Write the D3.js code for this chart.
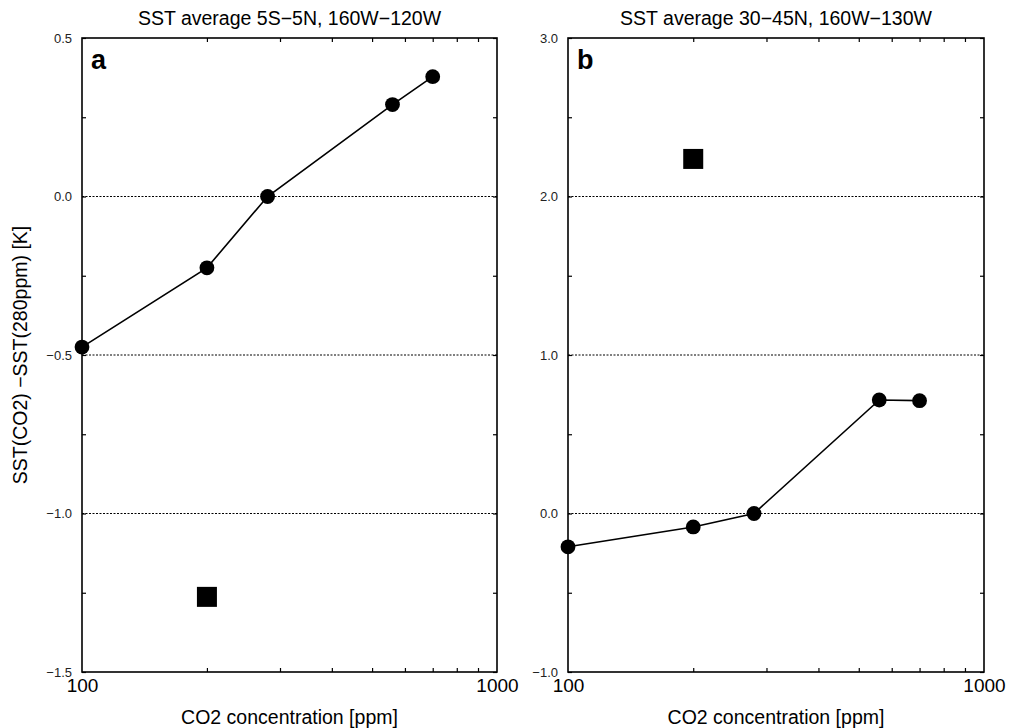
<!DOCTYPE html>
<html>
<head>
<meta charset="utf-8">
<script src="https://cdn.jsdelivr.net/npm/d3@7"></script>
<style>
  body { margin: 0; background: #fff; }
  text { font-family: "Liberation Sans", Arial, sans-serif; }
</style>
</head>
<body>
<svg id="chart" width="1019" height="728"></svg>
<script>
// values
let co2 = [100, 200, 280, 560, 700],
  sstA = [-0.475, -0.225, 0.0, 0.29, 0.378],
  sstB = [-0.21, -0.085, 0.0, 0.716, 0.712],
  squareCo2 = [200],
  squareA = [-1.263],
  squareB = [2.237]

let titles = ["SST average 5S\u22125N, 160W\u2212120W", "SST average 30\u221245N, 160W\u2212130W"],
  letters = ["a", "b"],
  yDomains = [[-1.5, 0.5], [-1.0, 3.0]],
  yMajorA = [-1.5, -1.0, -0.5, 0.0, 0.5],
  yMajorB = [-1.0, 0.0, 1.0, 2.0, 3.0],
  yMinorA = [-1.25, -0.75, -0.25, 0.25],
  yMinorB = [-0.5, 0.5, 1.5, 2.5],
  xLabels = [100, 1000],
  xMinor = [200, 300, 400, 500, 600, 700, 800, 900]

let svg = d3.select("#chart"),
  yTop = 38, yBottom = 672,
  lefts = [82, 568], rights = [497, 984]

var fmt = d3.format(".1f")

let panels = [
  {y: sstA, sq: squareA, major: yMajorA, minor: yMinorA},
  {y: sstB, sq: squareB, major: yMajorB, minor: yMinorB}
]

panels.forEach((p, i) => {
  let x = d3.scaleLog().domain([100, 1000]).range([lefts[i], rights[i]]),
    y = d3.scaleLinear().domain(yDomains[i]).range([yBottom, yTop])
  let g = svg.append("g")

  // dotted lines at inner major values
  g.selectAll(".grid")
    .data(p.major.slice(1, -1)).enter()
    .append("line")
    .attr("x1", lefts[i]).attr("x2", rights[i])
    .attr("y1", d => y(d)).attr("y2", d => y(d))
    .attr("stroke", "#000")
    .attr("stroke-width", 1)
    .attr("stroke-dasharray", "2,1.5")

  // y axes, ticks pointing inward
  let yl = g.append("g").attr("transform", `translate(${lefts[i]},0)`)
    .call(d3.axisLeft(y).tickValues(p.major).tickFormat(fmt).tickSize(-4).tickPadding(10))
  yl.selectAll("text").attr("font-size", 13).attr("fill", "#222")
  g.append("g").attr("transform", `translate(${lefts[i]},0)`)
    .call(d3.axisLeft(y).tickValues(p.minor).tickFormat("").tickSize(-4))
  g.append("g").attr("transform", `translate(${rights[i]},0)`)
    .call(d3.axisRight(y).tickValues(p.major.concat(p.minor)).tickFormat("").tickSize(-4))

  // x axes, log scale
  let xb = g.append("g").attr("transform", `translate(0,${yBottom})`)
    .call(d3.axisBottom(x).tickValues(xLabels).tickFormat(d3.format("d")).tickSize(0).tickPadding(7))
  xb.selectAll("text").attr("font-size", 19).attr("fill", "#000")
  g.append("g").attr("transform", `translate(0,${yBottom})`)
    .call(d3.axisBottom(x).tickValues(xMinor).tickFormat("").tickSize(-4))
  g.append("g").attr("transform", `translate(0,${yTop})`)
    .call(d3.axisTop(x).tickValues(xMinor).tickFormat("").tickSize(-4))

  g.selectAll(".domain").remove()
  g.selectAll(".tick line").attr("stroke", "#000").attr("stroke-width", 1.2)

  // frame
  g.append("rect")
    .attr("x", lefts[i]).attr("y", yTop)
    .attr("width", rights[i] - lefts[i]).attr("height", yBottom - yTop)
    .attr("fill", "none").attr("stroke", "#000").attr("stroke-width", 1.6)

  // line + circles
  let line = d3.line().x((d, j) => x(co2[j])).y(d => y(d))
  g.append("path")
    .datum(p.y)
    .attr("d", line)
    .attr("fill", "none").attr("stroke", "#000").attr("stroke-width", 1.6)
  g.selectAll(".pt")
    .data(p.y).enter()
    .append("circle")
    .attr("cx", (d, j) => x(co2[j])).attr("cy", d => y(d))
    .attr("r", 7.4).attr("fill", "#000")

  g.selectAll(".sq")
    .data(p.sq).enter()
    .append("rect")
    .attr("x", (d, j) => x(squareCo2[j]) - 10).attr("y", d => y(d) - 10)
    .attr("width", 20).attr("height", 20).attr("fill", "#000")

  // texts
  g.append("text")
    .attr("x", (lefts[i] + rights[i]) / 2).attr("y", 25)
    .attr("text-anchor", "middle").attr("font-size", 19.5)
    .text(titles[i])
  g.append("text")
    .attr("x", (lefts[i] + rights[i]) / 2).attr("y", 724)
    .attr("text-anchor", "middle").attr("font-size", 19.5)
    .text("CO2 concentration [ppm]")
  g.append("text")
    .attr("x", lefts[i] + 9).attr("y", 69)
    .attr("font-size", 27).attr("font-weight", "bold")
    .text(letters[i])
})

svg.append("text")
  .attr("transform", "translate(27,355) rotate(-90)")
  .attr("text-anchor", "middle").attr("font-size", 19.5)
  .text("SST(CO2) \u2212SST(280ppm) [K]")
</script>
</body>
</html>
